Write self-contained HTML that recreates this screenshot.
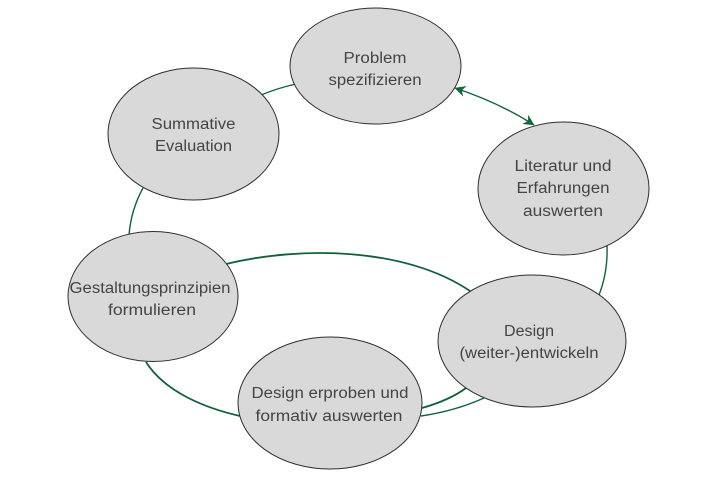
<!DOCTYPE html>
<html>
<head>
<meta charset="utf-8">
<style>
html,body{margin:0;padding:0;background:#fff;}
svg{display:block;}
text{font-family:"Liberation Sans",sans-serif;font-size:15.5px;fill:#444;text-anchor:middle;}
</style>
</head>
<body>
<svg width="712" height="491" viewBox="0 0 712 491" xmlns="http://www.w3.org/2000/svg">
<defs>
<marker id="a" viewBox="0 0 10 10" refX="9.500" refY="5" markerWidth="12" markerHeight="11" markerUnits="userSpaceOnUse" orient="auto-start-reverse">
<path d="M0 0L10 5L0 10L3 5Z" fill="#11683a"/>
</marker>
</defs>
<g fill="none" stroke="#11623a">
<path d="M261 95Q278 88 296 84" stroke-width="1.4"/>
<path d="M143 188Q131 210 129 235" stroke-width="1.4"/>
<path d="M607 245Q608 272 599 295" stroke-width="1.4"/>
<path d="M226 264C300 246 405 247 470 291" stroke-width="1.8"/>
<path d="M146 362C165 392 205 408 240 416" stroke-width="1.8"/>
<path d="M422 408Q450 400 466 388" stroke-width="1.9"/>
<path d="M421 416Q455 411 484 398" stroke-width="1.4"/>
<path d="M455 88Q500 103 534 125" stroke-width="1.4" marker-start="url(#a)" marker-end="url(#a)"/>
</g>
<g fill="#d9d9d9" stroke="#2f2f2f" stroke-width="1">
<ellipse cx="375.500" cy="66" rx="85.500" ry="58"/>
<ellipse cx="193.500" cy="134" rx="85.500" ry="66"/>
<ellipse cx="563.500" cy="188.500" rx="85.500" ry="66.500"/>
<ellipse cx="532" cy="341" rx="94" ry="66"/>
<ellipse cx="153" cy="296.500" rx="85" ry="65"/>
<ellipse cx="330" cy="403" rx="92" ry="66"/>
</g>
<text x="375" y="63" textLength="63" lengthAdjust="spacingAndGlyphs">Problem</text>
<text x="375" y="85" textLength="93" lengthAdjust="spacingAndGlyphs">spezifizieren</text>
<text x="193.500" y="129" textLength="84" lengthAdjust="spacingAndGlyphs">Summative</text>
<text x="193.500" y="151" textLength="77" lengthAdjust="spacingAndGlyphs">Evaluation</text>
<text x="563" y="171" textLength="97" lengthAdjust="spacingAndGlyphs">Literatur und</text>
<text x="563" y="193" textLength="93" lengthAdjust="spacingAndGlyphs">Erfahrungen</text>
<text x="563" y="216" textLength="80" lengthAdjust="spacingAndGlyphs">auswerten</text>
<text x="529" y="336" textLength="50" lengthAdjust="spacingAndGlyphs">Design</text>
<text x="529" y="358" textLength="139" lengthAdjust="spacingAndGlyphs">(weiter-)entwickeln</text>
<text x="150" y="293" textLength="161" lengthAdjust="spacingAndGlyphs">Gestaltungsprinzipien</text>
<text x="152" y="315" textLength="88" lengthAdjust="spacingAndGlyphs">formulieren</text>
<text x="330" y="398" textLength="157" lengthAdjust="spacingAndGlyphs">Design erproben und</text>
<text x="329" y="421" textLength="147" lengthAdjust="spacingAndGlyphs">formativ auswerten</text>
</svg>
</body>
</html>
